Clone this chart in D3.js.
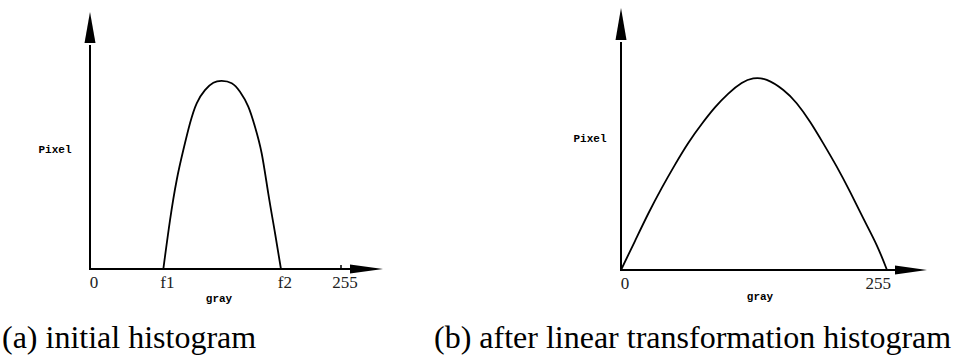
<!DOCTYPE html>
<html>
<head>
<meta charset="utf-8">
<script src="https://cdn.jsdelivr.net/npm/d3@7"></script>
<style>
  body { margin: 0; background: #fff; }
  svg { display: block; }
</style>
</head>
<body>
<div id="chart"></div>
<script>
// data: gray level vs pixel count (pixel in arbitrary units 0-100)
var grayA = [74.5, 81.3, 88.1, 94.8, 101.6, 108.4, 116.8, 125.3, 133.8, 144.0, 152.4, 160.8, 167.6, 174.4, 181.1, 188.0, 194.0];
var pixelA = [0, 23.4, 42.6, 56.9, 69.7, 79.3, 85.6, 89.1, 90.0, 88.9, 84.8, 77.7, 68.1, 55.4, 36.2, 17.1, 0];

var grayB = [0, 13.4, 26.2, 39.0, 51.8, 64.5, 77.4, 90.1, 102.9, 115.7, 126.8, 139.7, 155.6, 168.4, 181.2, 193.9, 206.8, 219.5, 232.3, 245.1, 255];
var pixelB = [0, 13.8, 26.9, 39.0, 50.2, 60.5, 69.5, 77.4, 84.0, 89.0, 91.2, 90.5, 85.7, 79.4, 70.6, 60.3, 49.2, 37.3, 24.6, 11.9, 0];

var tickValsA = [0, 74.5, 194, 255];
var tickLabelsA = ["0", "f1", "f2", "255"];
var tickValsB = [0, 255];
var tickLabelsB = ["0", "255"];

var captions = ["(a) initial histogram", "(b) after linear transformation histogram"];

//set up SVG
var svgWidth = 956;
var svgHeight = 358;

var svg = d3.select("#chart")
    .append("svg")
    .attr("width", svgWidth)
    .attr("height", svgHeight);

// layout of the two panels (pixels)
var panels = [
    {
        gray: grayA, pixel: pixelA, ticks: tickValsA, labels: tickLabelsA,
        xRange: [90, 341], yRange: [269, 60],
        yTip: 12, yBase: 43, xBase: 350, xTip: 383,
        tickMark: true, lastAnchor: "middle",
        pixelPos: [55, 153], grayPos: [219, 302],
        caption: captions[0], captionX: 2
    },
    {
        gray: grayB, pixel: pixelB, ticks: tickValsB, labels: tickLabelsB,
        xRange: [621, 887], yRange: [270, 60],
        yTip: 8, yBase: 40, xBase: 895, xTip: 927,
        tickMark: false, lastAnchor: "end",
        pixelPos: [590, 142], grayPos: [760, 300],
        caption: captions[1], captionX: 434
    }
];

panels.forEach(function (p) {
    var x = d3.scaleLinear().domain([0, 255]).range(p.xRange);
    var y = d3.scaleLinear().domain([0, 100]).range(p.yRange);

    var g = svg.append("g");
    var x0 = x(0), y0 = y(0);

    // y axis + arrow
    g.append("line")
        .attr("x1", x0).attr("y1", y0)
        .attr("x2", x0).attr("y2", p.yBase + 2)
        .attr("stroke", "#000").attr("stroke-width", 2);
    g.append("path")
        .attr("d", `M${x0},${p.yTip}L${x0 - 5.5},${p.yBase}L${x0 + 5.5},${p.yBase}Z`)
        .attr("fill", "#000");

    // x axis + arrow
    g.append("line")
        .attr("x1", x0 - 1).attr("y1", y0)
        .attr("x2", p.xBase + 2).attr("y2", y0)
        .attr("stroke", "#000").attr("stroke-width", 2);
    g.append("path")
        .attr("d", `M${p.xTip},${y0}L${p.xBase},${y0 - 4.5}L${p.xBase},${y0 + 4.5}Z`)
        .attr("fill", "#000");

    if (p.tickMark) {
        g.append("line")
            .attr("x1", x(255)).attr("x2", x(255))
            .attr("y1", y0 - 4).attr("y2", y0)
            .attr("stroke", "#000").attr("stroke-width", 1.5);
    }

    // tick labels
    g.selectAll("text.tick")
        .data(p.ticks)
        .enter()
        .append("text")
        .attr("class", "tick")
        .attr("x", function (d) { return x(d); })
        .attr("dx", 4)
        .attr("y", y0 + 19)
        .attr("text-anchor", function (d, i) { return i === p.ticks.length - 1 ? p.lastAnchor : "middle"; })
        .attr("font-family", "'Liberation Serif', serif")
        .attr("font-size", 17)
        .attr("fill", "#222")
        .text(function (d, i) { return p.labels[i]; });

    // curve
    var pts = p.gray.map(function (v, i) { return [v, p.pixel[i]]; });
    var line = d3.line()
        .x(function (d) { return x(d[0]); })
        .y(function (d) { return y(d[1]); })
        .curve(d3.curveNatural);
    g.append("path")
        .datum(pts)
        .attr("d", line)
        .attr("fill", "none")
        .attr("stroke", "#000")
        .attr("stroke-width", 1.8);

    // axis titles
    g.append("text")
        .attr("x", p.pixelPos[0]).attr("y", p.pixelPos[1])
        .attr("text-anchor", "middle")
        .attr("font-family", "'Liberation Mono', monospace")
        .attr("font-weight", "bold")
        .attr("font-size", 11)
        .text("Pixel");
    g.append("text")
        .attr("x", p.grayPos[0]).attr("y", p.grayPos[1])
        .attr("text-anchor", "middle")
        .attr("font-family", "'Liberation Mono', monospace")
        .attr("font-weight", "bold")
        .attr("font-size", 11)
        .text("gray");

    // caption
    g.append("text")
        .attr("x", p.captionX).attr("y", 348)
        .attr("font-family", "'Liberation Serif', serif")
        .attr("font-size", 32)
        .attr("fill", "#000")
        .text(p.caption);
});
</script>
</body>
</html>
